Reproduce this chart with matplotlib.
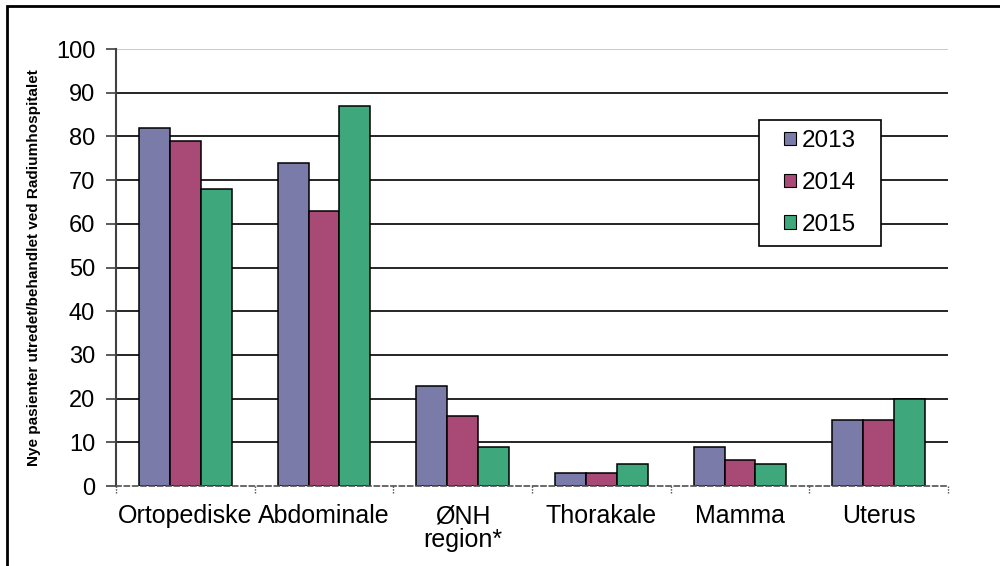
import numpy as np
import matplotlib.pyplot as plt
from matplotlib.patches import Rectangle, Patch

plt.rcParams['font.family'] = ['Liberation Sans', 'DejaVu Sans']

# Data
categories = ["Ortopediske", "Abdominale", "ØNH\nregion*", "Thorakale", "Mamma", "Uterus"]
years = ["2013", "2014", "2015"]
v2013 = [82, 74, 23, 3, 9, 15]
v2014 = [79, 63, 16, 3, 6, 15]
v2015 = [68, 87, 9, 5, 5, 20]
colors = ["#7b7ba9", "#a94a76", "#3ea77b"]

fig = plt.figure(figsize=(10, 5.66), dpi=100)
ax = fig.add_axes([0.116, 0.1413, 0.832, 0.772])

x = np.arange(len(categories))
width = 0.222
for i, vals in enumerate([v2013, v2014, v2015]):
    ax.bar(x + (i - 1) * width, vals, width, color=colors[i],
           edgecolor="black", linewidth=1.1, zorder=3)

ax.set_xlim(-0.5, len(categories) - 0.5)
ax.set_ylim(0, 100)
ax.set_yticks(range(0, 101, 10))
ax.tick_params(axis='y', labelsize=17, length=7, width=1.2, color="#404040",
               direction='out', pad=8)
ax.set_xticks(x)
ax.set_xticklabels(categories, fontsize=18, linespacing=1.0)
ax.tick_params(axis='x', length=0, pad=13)

# gridlines: black, top one light gray
for yv in range(10, 100, 10):
    ax.axhline(yv, color="black", linewidth=1.2, zorder=1)
ax.axhline(100, color="#c0c0c0", linewidth=1.2, zorder=1)

for s in ["top", "right"]:
    ax.spines[s].set_visible(False)
ax.spines["left"].set_color("#404040")
ax.spines["left"].set_linewidth(1.5)
ax.spines["bottom"].set_color("#505050")
ax.spines["bottom"].set_linestyle((0, (3, 2)))
ax.spines["bottom"].set_linewidth(1.2)
ax.spines["bottom"].set_zorder(4)

# small dotted ticks at the category boundaries
for b in np.arange(-0.5, len(categories), 1.0):
    ax.plot([b, b], [0, -1.5], color="#505050", linestyle=(0, (1, 1)),
            linewidth=1, clip_on=False, zorder=4)

ax.set_ylabel("Nye pasienter utredet/behandlet ved Radiumhospitalet",
              fontsize=11, fontweight="bold", labelpad=11)

# legend box drawn separately so it can be wider than tall padding allows
lx0, lx1, ly0, ly1 = 0.773, 0.9195, 0.549, 0.8375
ax.add_patch(Rectangle((lx0, ly0), lx1 - lx0, ly1 - ly0, transform=ax.transAxes,
                       facecolor="white", edgecolor="black", linewidth=1.2, zorder=5))
handles = [Patch(facecolor=c, edgecolor="black", linewidth=0.8) for c in colors]
leg = ax.legend(handles, years, loc="center",
                bbox_to_anchor=((lx0 + lx1) / 2, (ly0 + ly1) / 2),
                fontsize=17.5, frameon=False,
                handlelength=0.5, handleheight=0.5, handletextpad=0.25,
                labelspacing=0.82, borderpad=0, borderaxespad=0)
leg.set_zorder(6)

# outer frame around the chart
fig.patches.append(Rectangle((0.007, -0.1), 1.1, 1.1 - 0.0106, transform=fig.transFigure,
                             fill=False, edgecolor="black", linewidth=2))

fig.savefig("out.png", dpi=100)
